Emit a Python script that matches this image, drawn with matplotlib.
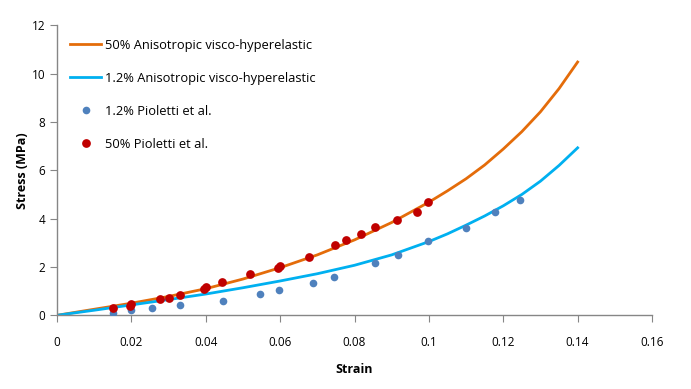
import numpy as np
import matplotlib
matplotlib.use('Agg')
import matplotlib.pyplot as plt
from matplotlib.ticker import FuncFormatter

plt.rcParams['font.family'] = ['Open Sans', 'DejaVu Sans']

# model curves
strain_fit = [0, 0.01, 0.02, 0.03, 0.04, 0.05, 0.06, 0.07, 0.08, 0.09, 0.10, 0.105,
              0.11, 0.115, 0.12, 0.125, 0.13, 0.135, 0.14]
stress_50 = [0, 0.25, 0.5, 0.78, 1.1, 1.5, 1.97, 2.5, 3.12, 3.84, 4.68, 5.15,
             5.65, 6.22, 6.88, 7.6, 8.42, 9.38, 10.48]
stress_12 = [0, 0.21, 0.43, 0.65, 0.88, 1.14, 1.42, 1.72, 2.07, 2.5, 3.05, 3.37,
             3.73, 4.11, 4.53, 5.0, 5.55, 6.2, 6.93]

# Pioletti et al. experimental points
exp12_strain = [0.015, 0.02, 0.0256, 0.033, 0.0447, 0.0547, 0.0598, 0.0689, 0.0746, 0.0856,
                0.0916, 0.0998, 0.1099, 0.1177, 0.1246]
exp12_stress = [0.08, 0.21, 0.29, 0.41, 0.58, 0.87, 1.05, 1.32, 1.57, 2.15,
                2.48, 3.06, 3.62, 4.26, 4.76]

exp50_strain = [0.015, 0.0195, 0.020, 0.0277, 0.030, 0.033, 0.0395, 0.040, 0.0445, 0.052,
                0.0595, 0.060, 0.0678, 0.0747, 0.0777, 0.0817, 0.0856, 0.0915, 0.0969, 0.0998]
exp50_stress = [0.29, 0.40, 0.48, 0.66, 0.73, 0.83, 1.10, 1.16, 1.36, 1.70,
                1.97, 2.02, 2.40, 2.90, 3.12, 3.35, 3.64, 3.93, 4.26, 4.68]

fig = plt.figure(figsize=(6.91, 3.89), dpi=100)
ax = fig.add_axes([57/691, 1-315.3/389, 595/691, 290/389])

ax.plot(strain_fit, stress_50, color='#E46C0A', lw=2, label='50% Anisotropic visco-hyperelastic', zorder=2)
ax.plot(strain_fit, stress_12, color='#00B0F0', lw=2, label='1.2% Anisotropic visco-hyperelastic', zorder=2)
ax.plot(exp12_strain, exp12_stress, 'o', color='#4F81BD', ms=5.5, mew=0,
        label='1.2% Pioletti et al.', zorder=3)
ax.plot(exp50_strain, exp50_stress, 'o', color='#C00000', ms=6.3, mew=0,
        label='50% Pioletti et al.', zorder=4)

ax.set_xlim(0, 0.16)
ax.set_ylim(0, 12)
ax.set_xticks(np.arange(0, 0.161, 0.02))
ax.set_yticks(np.arange(0, 12.1, 2))
ax.xaxis.set_major_formatter(FuncFormatter(lambda v, p: f'{v:g}'))

for s in ['top', 'right']:
    ax.spines[s].set_visible(False)
for s in ['left', 'bottom']:
    ax.spines[s].set_color('#868686')
    ax.spines[s].set_linewidth(1)
ax.tick_params(direction='out', length=5, color='#868686', labelsize=8.5)
ax.tick_params(axis='x', pad=10)

ax.set_xlabel('Strain', fontsize=9, fontweight='bold', labelpad=10)
ax.set_ylabel('Stress (MPa)', fontsize=9, fontweight='bold', labelpad=2)

ax.legend(loc='upper left', bbox_to_anchor=(0.005, 0.99), frameon=False, fontsize=9.3,
          labelspacing=1.55, handlelength=2.4, handletextpad=0.25, borderaxespad=0.4)

fig.savefig('out.png', dpi=100)
